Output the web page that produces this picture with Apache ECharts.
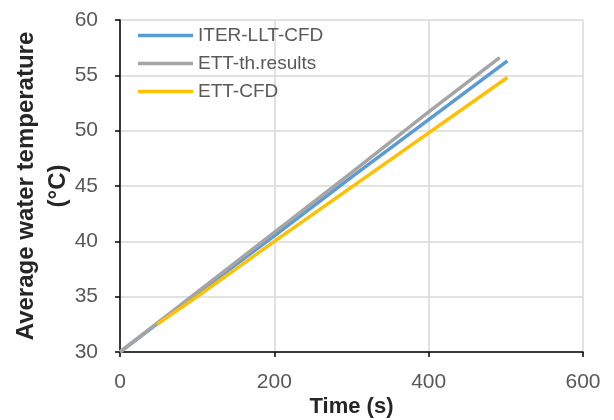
<!DOCTYPE html>
<html>
<head>
<meta charset="utf-8">
<script src="https://cdn.jsdelivr.net/npm/echarts@6/dist/echarts.min.js"></script>
<style>
  html, body { margin: 0; padding: 0; background: #fff; }
  #chart { width: 614px; height: 420px; }
</style>
</head>
<body>
<div id="chart"></div>
<script>
// series names, in drawing order (later ones sit on top)
var seriesNames = ['ITER-LLT-CFD', 'ETT-th.results', 'ETT-CFD'];
var seriesColors = ['#5B9BD5', '#A5A5A5', '#FFC000'];

// time (s) and average water temperature (°C)
var iterTime = [0, 100, 200, 300, 400, 502];
var iterTemp = [30.0, 35.3, 40.5, 45.8, 51.0, 56.3];

var ettThTime = [0, 100, 200, 300, 400, 492];
var ettThTemp = [30.0, 35.4, 40.8, 46.2, 51.7, 56.6];

var ettCfdTime = [48, 100, 200, 300, 400, 502];
var ettCfdTemp = [32.5, 35.0, 40.0, 44.9, 49.8, 54.8];

function pairs(xs, ys) {
  return xs.map(function (x, i) { return [x, ys[i]]; });
}

var seriesData = [
  pairs(iterTime, iterTemp),
  pairs(ettThTime, ettThTemp),
  pairs(ettCfdTime, ettCfdTemp)
];

var font = 'Liberation Sans';
var myChart = echarts.init(document.getElementById('chart'));

myChart.setOption({
  animation: false,
  grid: { left: 120, right: 31, top: 20, bottom: 68, outerBoundsMode: 'none' },
  legend: {
    orient: 'vertical',
    left: 133,
    top: 21,
    icon: 'rect',
    itemWidth: 55,
    itemHeight: 3.5,
    itemGap: 9,
    data: seriesNames,
    textStyle: { fontFamily: font, fontSize: 19, color: '#595959' }
  },
  xAxis: {
    type: 'value',
    min: 0,
    max: 600,
    interval: 200,
    name: 'Time (s)',
    nameLocation: 'middle',
    nameGap: 44,
    nameMoveOverlap: false,
    nameTextStyle: { fontFamily: font, fontSize: 22, fontWeight: 'bold', color: '#262626' },
    axisLine: { lineStyle: { color: '#000', width: 1.5 } },
    axisTick: { show: true, length: 5, lineStyle: { color: '#000', width: 1.5 } },
    axisLabel: { fontFamily: font, fontSize: 21, color: '#595959', margin: 20 },
    splitLine: { lineStyle: { color: '#d9d9d9', width: 1.5 } }
  },
  yAxis: {
    type: 'value',
    min: 30,
    max: 60,
    interval: 5,
    name: 'Average water temperature\n(°C)',
    nameLocation: 'middle',
    nameRotate: 90,
    nameGap: 46,
    nameMoveOverlap: false,
    nameTextStyle: { fontFamily: font, fontSize: 24, fontWeight: 'bold', color: '#262626', lineHeight: 32 },
    axisLine: { show: true, lineStyle: { color: '#000', width: 1.5 } },
    axisTick: { show: true, length: 5, lineStyle: { color: '#000', width: 1.5 } },
    axisLabel: { fontFamily: font, fontSize: 21, color: '#595959', margin: 22 },
    splitLine: { lineStyle: { color: '#d9d9d9', width: 1.5 } }
  },
  series: seriesNames.map(function (name, i) {
    return {
      name: name,
      type: 'line',
      symbol: 'none',
      data: seriesData[i],
      color: seriesColors[i],
      lineStyle: { width: 3.5, color: seriesColors[i] }
    };
  })
});
</script>
</body>
</html>
